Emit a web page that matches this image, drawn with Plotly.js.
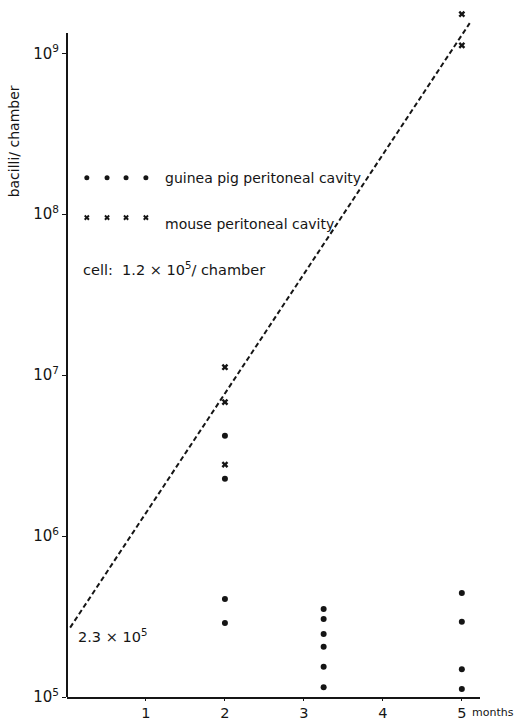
<!DOCTYPE html>
<html>
<head>
<meta charset="utf-8">
<script src="https://cdn.plot.ly/plotly-3.0.1.min.js"></script>
<style>html,body{margin:0;padding:0;background:#fff;}#chart{width:518px;height:725px;}</style>
</head>
<body>
<div id="chart"></div>
<script>
// Data
var guineaPigMonths = [2, 2, 2, 2, 3.25, 3.25, 3.25, 3.25, 3.25, 3.25, 5, 5, 5, 5];
var guineaPigBacilli = [4.2e6, 2.27e6, 4.06e5, 2.88e5, 3.52e5, 3.05e5, 2.46e5, 2.05e5, 1.54e5, 1.15e5, 4.43e5, 2.93e5, 1.49e5, 1.12e5];
var mouseMonths = [2, 2, 2, 5, 5];
var mouseBacilli = [1.12e7, 6.8e6, 2.78e6, 1.75e9, 1.12e9];
var fitMonths = [0.04, 5.1];
var fitBacilli = [2.7e5, 1.54e9];
var xTickVals = [1, 2, 3, 4, 5];
var xTickText = ['1', '2', '3', '4', '5'];
var yTickVals = [1e5, 1e6, 1e7, 1e8, 1e9];
var yTickText = ['10<sup>5</sup>', '10<sup>6</sup>', '10<sup>7</sup>', '10<sup>8</sup>', '10<sup>9</sup>'];
var legendLabels = ['guinea pig peritoneal cavity', 'mouse peritoneal cavity'];

var INK = '#151515';
var FONT = '"DejaVu Sans", sans-serif';

var traces = [
  {x: fitMonths, y: fitBacilli, mode: 'lines', type: 'scatter', cliponaxis: false,
   line: {color: INK, width: 2, dash: '5px,3px'}, hoverinfo: 'skip', showlegend: false},
  {x: guineaPigMonths, y: guineaPigBacilli, mode: 'markers', type: 'scatter', cliponaxis: false,
   marker: {symbol: 'circle', size: 6, color: INK}, showlegend: false},
  {x: mouseMonths, y: mouseBacilli, mode: 'markers', type: 'scatter', cliponaxis: false,
   marker: {symbol: 'x', size: 6, color: INK, line: {width: 0}}, showlegend: false},
  // legend marker rows on an overlay frame axis (0 = x axis, 1 = top of drawn y axis)
  {x: [0.048, 0.097, 0.143, 0.191], y: [0.782, 0.782, 0.782, 0.782], xaxis: 'x2', yaxis: 'y2',
   mode: 'markers', type: 'scatter', cliponaxis: false,
   marker: {symbol: 'circle', size: 5, color: INK}, showlegend: false},
  {x: [0.048, 0.097, 0.143, 0.191], y: [0.722, 0.722, 0.722, 0.722], xaxis: 'x2', yaxis: 'y2',
   mode: 'markers', type: 'scatter', cliponaxis: false,
   marker: {symbol: 'x', size: 5, color: INK, line: {width: 0}}, showlegend: false}
];

// plot area: x 67..480, y 5..697 ; log range 5..9.3 ; drawn y axis stops at 33 px
var frameH = 697 - 5, oldH = 697 - 33;
var layout = {
  width: 518, height: 725,
  margin: {l: 67, r: 38, t: 5, b: 28},
  paper_bgcolor: '#fff', plot_bgcolor: '#fff',
  font: {family: FONT, color: INK, size: 14},
  showlegend: false,
  xaxis: {
    range: [0, 5.23], showline: true, linecolor: INK, linewidth: 1.5,
    showgrid: false, zeroline: false, ticks: 'outside', ticklen: 2, tickcolor: INK,
    tickvals: xTickVals, ticktext: xTickText, tickfont: {size: 14.5, color: INK}
  },
  yaxis: {
    type: 'log', range: [5, 9.3], showline: false,
    showgrid: false, zeroline: false, ticks: 'outside', ticklen: 4, tickcolor: INK,
    tickvals: yTickVals, ticktext: yTickText, tickfont: {size: 15, color: INK}
  },
  xaxis2: {overlaying: 'x', range: [0, 1], visible: false},
  yaxis2: {overlaying: 'y', range: [0, frameH / oldH], visible: false},
  shapes: [
    {type: 'line', xref: 'paper', yref: 'y2', x0: 0, x1: 0, y0: 0, y1: 1,
     line: {color: INK, width: 2}}
  ],
  annotations: [
    {text: legendLabels[0], xref: 'paper', yref: 'y2', x: 0.232, y: 0.782,
     xanchor: 'left', yanchor: 'middle', showarrow: false, font: {size: 14}},
    {text: legendLabels[1], xref: 'paper', yref: 'y2', x: 0.232, y: 0.712,
     xanchor: 'left', yanchor: 'middle', showarrow: false, font: {size: 14}},
    {text: 'cell:  1.2 × 10<sup>5</sup>/ chamber', xref: 'paper', yref: 'y2', x: 0.034, y: 0.645,
     xanchor: 'left', yanchor: 'middle', showarrow: false, font: {size: 14.5}},
    {text: '2.3 × 10<sup>5</sup>', xref: 'paper', yref: 'y2', x: 0.022, y: 0.092,
     xanchor: 'left', yanchor: 'middle', showarrow: false, font: {size: 14.5}},
    {text: 'months', xref: 'paper', yref: 'paper', x: 0.975, y: -0.0231,
     xanchor: 'left', yanchor: 'middle', showarrow: false, font: {size: 11}},
    {text: 'bacilli/ chamber', xref: 'paper', yref: 'y2', x: -0.128, y: 0.837,
     xanchor: 'center', yanchor: 'middle', textangle: -90, showarrow: false, font: {size: 14}}
  ]
};

Plotly.newPlot('chart', traces, layout, {staticPlot: true, displayModeBar: false});
</script>
</body>
</html>
